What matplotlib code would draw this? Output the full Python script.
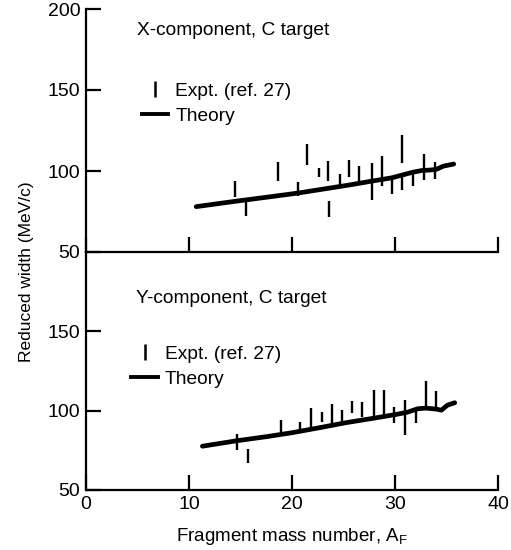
import matplotlib
matplotlib.use("Agg")
import matplotlib.pyplot as plt
from matplotlib.lines import Line2D

plt.rcParams["font.family"] = ["Liberation Sans", "DejaVu Sans"]

# X-component panel
x_theory_x = [10.7, 14.5, 18, 20.6, 23, 25.5, 27.8, 29.7, 30.7, 31.7, 32.6, 33.4, 34.0, 34.7, 35.7]
x_theory_w = [78, 81.3, 84.2, 86.4, 88.8, 91.3, 93.8, 95.8, 97.5, 99.2, 100.3, 100.6, 101, 103.0, 104.3]
x_expt_a = [14.5, 15.5, 18.6, 20.6, 21.5, 22.6, 23.5, 23.6, 24.7, 25.5, 26.5, 27.8, 28.7, 29.7, 30.7, 30.7, 31.7, 32.8, 33.9]
x_expt_lo = [84.1, 72, 94, 84.4, 103.9, 96.1, 94, 71.8, 91, 96.1, 93, 82.3, 90.5, 85.8, 104.8, 88.5, 91, 94.6, 95]
x_expt_hi = [94, 82.1, 105.7, 93.4, 116.7, 101.9, 106.4, 81.7, 98.1, 107, 103.3, 104.8, 109.4, 95, 122.2, 97.1, 99.2, 110.5, 105.3]

# Y-component panel
y_theory_x = [11.3, 14.6, 17.5, 20, 22.7, 25.3, 27.7, 30, 31.2, 32.2, 33.0, 34.0, 34.5, 35.1, 35.8]
y_theory_w = [77.6, 81.0, 83.6, 86.1, 89.3, 92.5, 95.0, 97.5, 99.0, 101.2, 101.6, 101.0, 100.3, 103.5, 105.0]
y_expt_a = [14.7, 15.7, 18.9, 20.8, 21.8, 22.9, 23.9, 24.9, 25.8, 26.8, 28.0, 28.9, 29.9, 31.0, 32.0, 33.0, 34.0]
y_expt_lo = [75.5, 67, 84.6, 86.8, 87.8, 92.9, 90.8, 91.4, 98.8, 96.3, 95.7, 95.7, 92.5, 84.4, 92.5, 102, 101.4]
y_expt_hi = [85, 76.1, 94.1, 93.1, 101.4, 99.2, 104.1, 100.5, 106.2, 105.2, 113, 113, 102.4, 106.7, 101, 118.6, 112.6]

x_ticks = [0, 10, 20, 30, 40]
top_yticks = [50, 100, 150, 200]
bottom_yticks = [50, 100, 150]

fig = plt.figure(figsize=(5.11, 5.5), dpi=100)
left, width = 86 / 511, 412 / 511
ax1 = fig.add_axes([left, 298 / 550, width, 243 / 550])
ax2 = fig.add_axes([left, 60 / 550, width, 238 / 550])

panels = [
    (ax1, x_theory_x, x_theory_w, x_expt_a, x_expt_lo, x_expt_hi, top_yticks,
     "X-component, C target", (0.124, 0.912), (0.135, 0.698)),
    (ax2, y_theory_x, y_theory_w, y_expt_a, y_expt_lo, y_expt_hi, bottom_yticks,
     "Y-component, C target", (0.121, 0.805), (0.11, 0.608)),
]

for ax, tx, tw, ea, elo, ehi, yt, title, tpos, lpos in panels:
    ax.plot(tx, tw, color="black", lw=3.4, solid_capstyle="round")
    ax.vlines(ea, elo, ehi, color="black", lw=1.7)
    ax.set_xlim(0, 40)
    ax.set_ylim(50, 200)
    ax.set_xticks(x_ticks)
    ax.set_yticks(yt)
    ax.tick_params(direction="in", length=11, width=1.6, labelsize=14, pad=4)
    for s in ["top", "right"]:
        ax.spines[s].set_visible(False)
    for s in ["left", "bottom"]:
        ax.spines[s].set_linewidth(1.6)
    ax.patch.set_alpha(0)
    ax.text(tpos[0], tpos[1], title, transform=ax.transAxes, fontsize=13.8,
            ha="left", va="center")
    handles = [
        Line2D([], [], color="black", lw=0, marker="|", markersize=12, markeredgewidth=1.8),
        Line2D([], [], color="black", lw=2.8),
    ]
    ax.legend(handles, ["Expt. (ref. 27)", "Theory"], loc="upper left",
              bbox_to_anchor=lpos, frameon=False, fontsize=13.8,
              borderpad=0, borderaxespad=0, handlelength=1.4,
              handletextpad=0.35, labelspacing=0.4)

ax1.tick_params(labelbottom=False)
ax2.set_xlabel("Fragment mass number, A$_\\mathregular{F}$", fontsize=13.5, labelpad=10)
fig.text(27 / 511, 1 - 272 / 550, "Reduced width (MeV/c)", rotation=90,
         ha="center", va="center", fontsize=12.5)

fig.savefig("out.png", dpi=100)
